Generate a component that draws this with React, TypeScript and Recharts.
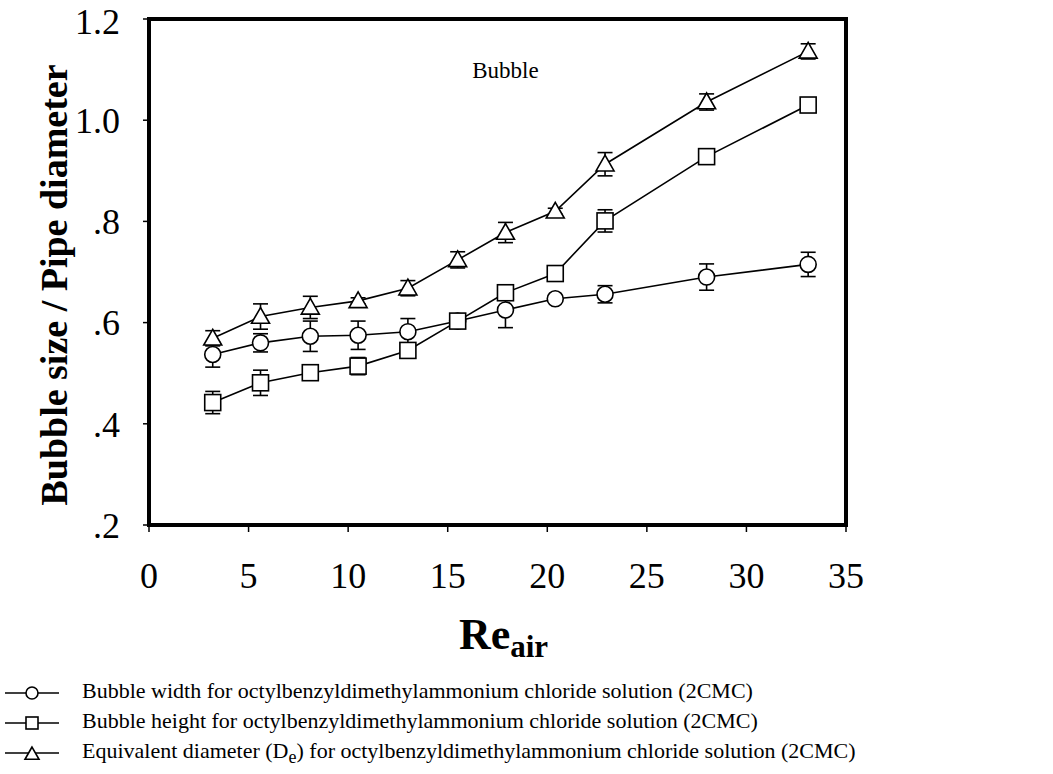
import React from "react"
import { ComposedChart, Line, XAxis, YAxis, ErrorBar, ReferenceArea, ReferenceDot } from "recharts"

const reAir = [3.2, 5.6, 8.1, 10.5, 13.0, 15.5, 17.9, 20.4, 22.9, 28.0, 33.1]

const bubbleWidth = [0.537, 0.56, 0.573, 0.575, 0.582, 0.603, 0.625, 0.647, 0.656, 0.69, 0.715]
const bubbleWidthErr = [0.025, 0.018, 0.03, 0.028, 0.026, 0.01, 0.035, 0.005, 0.017, 0.026, 0.024]

const bubbleHeight = [0.442, 0.481, 0.501, 0.514, 0.545, 0.603, 0.659, 0.697, 0.801, 0.928, 1.03]
const bubbleHeightErr = [0.022, 0.025, 0.005, 0.017, 0.005, 0.008, 0.005, 0.005, 0.022, 0.005, 0.005]

const eqDiameter = [0.569, 0.612, 0.63, 0.643, 0.668, 0.724, 0.778, 0.82, 0.913, 1.036, 1.136]
const eqDiameterErr = [0.015, 0.025, 0.022, 0.006, 0.015, 0.016, 0.02, 0.006, 0.023, 0.016, 0.015]

const yTicks = [0.2, 0.4, 0.6, 0.8, 1.0, 1.2]
const xTicks = [0, 5, 10, 15, 20, 25, 30, 35]

const legendLabels = [
  "Bubble width for octylbenzyldimethylammonium chloride solution (2CMC)",
  "Bubble height for octylbenzyldimethylammonium chloride solution (2CMC)",
  "Equivalent diameter (D",
]

const serif = '"Liberation Serif", "Times New Roman", serif'

const data = reAir.map((x, i) => ({
  x,
  width: bubbleWidth[i],
  widthErr: bubbleWidthErr[i],
  height: bubbleHeight[i],
  heightErr: bubbleHeightErr[i],
  eq: eqDiameter[i],
  eqErr: eqDiameterErr[i],
}))

function CircleMark({ cx, cy, size = 8 }: any) {
  return <circle cx={cx} cy={cy} r={size} fill="#fff" stroke="#000" strokeWidth={1.6} />
}

function SquareMark({ cx, cy, size = 8 }: any) {
  return <rect x={cx - size} y={cy - size} width={size * 2} height={size * 2} fill="#fff" stroke="#000" strokeWidth={1.6} />
}

function TriangleMark({ cx, cy, size = 9 }: any) {
  const pts = `${cx},${cy - size} ${cx - size},${cy + size * 0.75} ${cx + size},${cy + size * 0.75}`
  return <polygon points={pts} fill="#fff" stroke="#000" strokeWidth={1.6} />
}

const fmtY = (v: number) => (v >= 1 ? v.toFixed(1) : v.toFixed(1).replace(/^0/, ""))

function YTitle({ viewBox }: any) {
  const cx = 54
  const cy = viewBox.y + 266
  return (
    <text x={cx} y={cy} transform={`rotate(-90 ${cx} ${cy})`} textAnchor="middle" dominantBaseline="central"
      fontFamily={serif} fontWeight="bold" fontSize={38} fill="#000">
      Bubble size / Pipe diameter
    </text>
  )
}

function XTitle({ viewBox }: any) {
  const cx = viewBox.x + viewBox.width / 2 + 6
  const y = viewBox.y + 124
  return (
    <text x={cx} y={y} textAnchor="middle" fontFamily={serif} fontWeight="bold" fill="#000">
      <tspan fontSize={44}>Re</tspan>
      <tspan fontSize={31} dy={8}>air</tspan>
    </text>
  )
}

function LegendIcon({ kind }: { kind: number }) {
  return (
    <svg width={60} height={20} style={{ verticalAlign: "middle" }}>
      <line x1={3} y1={10} x2={57} y2={10} stroke="#000" strokeWidth={1.6} />
      {kind === 0 && <CircleMark cx={30} cy={10} size={6} />}
      {kind === 1 && <SquareMark cx={30} cy={10} size={6} />}
      {kind === 2 && <TriangleMark cx={30} cy={11} size={7} />}
    </svg>
  )
}

// ErrorBar width is the half-length of the cap
const errProps: any = { direction: "y", width: 7.5, stroke: "#000", strokeWidth: 1.6, isAnimationActive: false }
const markProps: any = { stroke: "none", activeDot: false, isAnimationActive: false }

export default function App() {
  return (
    <div style={{ position: "absolute", left: 0, top: 0, width: 1053, height: 774, background: "#fff" }}>
      <ComposedChart width={1053} height={774} data={data} margin={{ top: 19, right: 207, bottom: 189, left: 0 }}>
        <XAxis
          dataKey="x"
          type="number"
          domain={[0, 35]}
          ticks={xTicks}
          height={60}
          axisLine={{ stroke: "#000", strokeWidth: 4 }}
          tickLine={{ stroke: "#000", strokeWidth: 1.5 }}
          tickSize={7}
          tickMargin={30}
          tick={{ fill: "#000", fontSize: 36, fontFamily: serif }}
          label={<XTitle />}
        />
        <YAxis
          type="number"
          domain={[0.2, 1.2]}
          ticks={yTicks}
          width={149}
          tickFormatter={fmtY}
          axisLine={{ stroke: "#000", strokeWidth: 4 }}
          tickLine={{ stroke: "#000", strokeWidth: 1.5 }}
          tickSize={6}
          tickMargin={23}
          tick={{ fill: "#000", fontSize: 36, fontFamily: serif }}
          label={<YTitle />}
        />
        <ReferenceArea x1={0} x2={35} y1={0.2} y2={1.2} fill="none" fillOpacity={0} stroke="#000" strokeWidth={4} />
        <ReferenceDot
          x={17.9}
          y={1.1}
          r={0}
          fill="none"
          stroke="none"
          label={{ value: "Bubble", position: "center", fontFamily: serif, fontSize: 23, fill: "#000" }}
        />
        {/* lines + error bars first, markers drawn on top afterwards */}
        <Line dataKey="width" stroke="#000" strokeWidth={1.6} dot={false} activeDot={false} isAnimationActive={false}>
          <ErrorBar dataKey="widthErr" {...errProps} />
        </Line>
        <Line dataKey="height" stroke="#000" strokeWidth={1.6} dot={false} activeDot={false} isAnimationActive={false}>
          <ErrorBar dataKey="heightErr" {...errProps} />
        </Line>
        <Line dataKey="eq" stroke="#000" strokeWidth={1.6} dot={false} activeDot={false} isAnimationActive={false}>
          <ErrorBar dataKey="eqErr" {...errProps} />
        </Line>
        <Line dataKey="width" {...markProps}
          dot={(p: any) => <CircleMark key={`c-${p.index}`} cx={p.cx} cy={p.cy} />} />
        <Line dataKey="height" {...markProps}
          dot={(p: any) => <SquareMark key={`s-${p.index}`} cx={p.cx} cy={p.cy} />} />
        <Line dataKey="eq" {...markProps}
          dot={(p: any) => <TriangleMark key={`t-${p.index}`} cx={p.cx} cy={p.cy} />} />
      </ComposedChart>
      <div style={{ position: "absolute", left: 2, top: 676, fontFamily: serif, fontSize: 22, lineHeight: "30px", color: "#000" }}>
        {legendLabels.map((label, i) => (
          <div key={i} style={{ whiteSpace: "nowrap" }}>
            <LegendIcon kind={i} />
            <span style={{ marginLeft: 20 }}>
              {label}
              {i === 2 && (
                <>
                  <sub style={{ fontSize: 18 }}>e</sub>) for octylbenzyldimethylammonium chloride solution (2CMC)
                </>
              )}
            </span>
          </div>
        ))}
      </div>
    </div>
  )
}
